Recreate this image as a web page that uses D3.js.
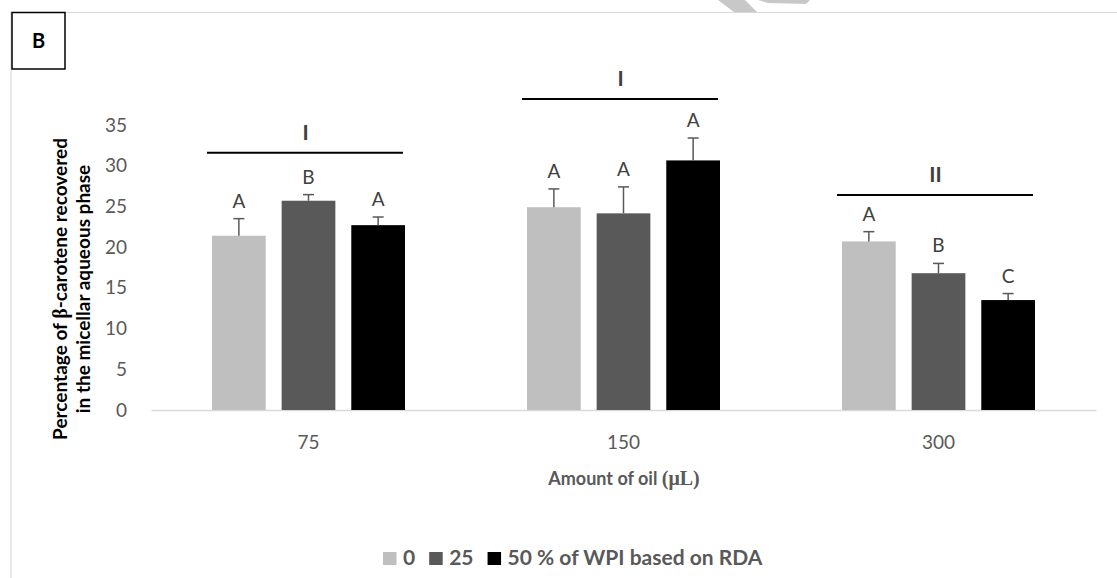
<!DOCTYPE html>
<html>
<head>
<meta charset="utf-8">
<script src="https://cdn.jsdelivr.net/npm/d3@7/dist/d3.min.js"></script>
<style>
  html, body { margin: 0; padding: 0; background: #fff; }
  svg { display: block; font-family: Lato, "Open Sans", sans-serif; }
</style>
</head>
<body>
<svg id="chart" width="1117" height="578"></svg>
<script>
// ---- data ----
const categories = ["75", "150", "300"];
const seriesNames = ["0", "25", "50 % of WPI based on RDA"];
const seriesColors = ["#bfbfbf", "#595959", "#000000"];
const values0 = [21.4, 24.9, 20.7];
const values25 = [25.7, 24.15, 16.8];
const values50 = [22.7, 30.65, 13.5];
const errors0 = [2.1, 2.25, 1.2];
const errors25 = [0.75, 3.25, 1.2];
const errors50 = [1.0, 2.75, 0.8];
const letters0 = ["A", "A", "A"];
const letters25 = ["B", "A", "B"];
const letters50 = ["A", "A", "C"];
const groupLabels = ["I", "I", "II"];
const groupLevels = [31.6, 38.2, 26.4];
const yTicks = [0, 5, 10, 15, 20, 25, 30, 35];

const seriesValues = [values0, values25, values50];
const seriesErrors = [errors0, errors25, errors50];
const seriesLetters = [letters0, letters25, letters50];

const svg = d3.select("#chart");

// frame
svg.append("line").attr("x1", 11).attr("x2", 1117).attr("y1", 12.5).attr("y2", 12.5)
  .attr("stroke", "#d9d9d9").attr("stroke-width", 1.2);
svg.append("line").attr("x1", 11).attr("x2", 11).attr("y1", 12).attr("y2", 578)
  .attr("stroke", "#d9d9d9").attr("stroke-width", 1.2);

// watermark fragment
svg.append("polygon").attr("points", "718,0 745,0 757,12 734,12").attr("fill", "#c8c8c8");
svg.append("polygon").attr("points", "758,0 810,0 806,4 768,3").attr("fill", "#c8c8c8");

// B box
svg.append("rect").attr("x", 12).attr("y", 12.5).attr("width", 53).attr("height", 56.5)
  .attr("fill", "#fff").attr("stroke", "#000").attr("stroke-width", 1.5);
svg.append("text").attr("x", 38.5).attr("y", 48).attr("text-anchor", "middle")
  .attr("font-weight", "bold").attr("font-size", 20).attr("fill", "#000").text("B");

// scales
const y = d3.scaleLinear().domain([0, 35]).range([410, 125]);
const x0 = d3.scaleBand().domain(categories).range([151, 1096])
  .paddingInner(122 / 315).paddingOuter(61 / 315);
const x1 = d3.scaleBand().domain(d3.range(seriesNames.length)).range([0, x0.bandwidth()])
  .paddingInner(0.2286).paddingOuter(0);

// y axis
const yAxis = svg.append("g").attr("transform", "translate(151,0)")
  .call(d3.axisLeft(y).tickValues(yTicks).tickSize(0).tickPadding(24));
yAxis.select(".domain").remove();
yAxis.selectAll("text").attr("font-size", 19).attr("fill", "#595959")
  .attr("font-family", "Lato, sans-serif");

// x axis
const xAxis = svg.append("g").attr("transform", "translate(0,410)")
  .call(d3.axisBottom(x0).tickSize(0).tickSizeOuter(0).tickPadding(26));
xAxis.select(".domain").attr("stroke", "#d9d9d9").attr("stroke-width", 1.5);
xAxis.selectAll("text").attr("font-size", 19).attr("fill", "#595959")
  .attr("font-family", "Lato, sans-serif");

// bars
const groups = svg.append("g").selectAll("g").data(categories).join("g")
  .attr("transform", d => `translate(${x0(d)},0)`);

seriesNames.forEach((s, si) => {
  groups.append("rect")
    .attr("x", x1(si))
    .attr("width", x1.bandwidth())
    .attr("y", (d, ci) => y(seriesValues[si][ci]))
    .attr("height", (d, ci) => y(0) - y(seriesValues[si][ci]))
    .attr("fill", seriesColors[si]);
  // error bars
  const cx = x1(si) + x1.bandwidth() / 2;
  groups.append("line")
    .attr("x1", cx).attr("x2", cx)
    .attr("y1", (d, ci) => y(seriesValues[si][ci]))
    .attr("y2", (d, ci) => y(seriesValues[si][ci] + seriesErrors[si][ci]))
    .attr("stroke", "#595959").attr("stroke-width", 1.5);
  groups.append("line")
    .attr("x1", cx - 5.5).attr("x2", cx + 5.5)
    .attr("y1", (d, ci) => y(seriesValues[si][ci] + seriesErrors[si][ci]))
    .attr("y2", (d, ci) => y(seriesValues[si][ci] + seriesErrors[si][ci]))
    .attr("stroke", "#595959").attr("stroke-width", 1.5);
  // letters
  groups.append("text")
    .attr("x", cx)
    .attr("y", (d, ci) => y(seriesValues[si][ci] + seriesErrors[si][ci]) - 11)
    .attr("text-anchor", "middle")
    .attr("font-size", 19).attr("fill", "#404040")
    .text((d, ci) => seriesLetters[si][ci]);
});

// significance lines
groups.append("line")
  .attr("x1", -5).attr("x2", x0.bandwidth() - 2)
  .attr("y1", (d, ci) => y(groupLevels[ci]))
  .attr("y2", (d, ci) => y(groupLevels[ci]))
  .attr("stroke", "#000").attr("stroke-width", 2);
groups.append("text")
  .attr("x", x0.bandwidth() / 2 - 3)
  .attr("y", (d, ci) => y(groupLevels[ci]) - 13)
  .attr("text-anchor", "middle")
  .attr("font-size", 21).attr("font-weight", "bold").attr("fill", "#404040")
  .text((d, ci) => groupLabels[ci]);

// y-axis title
const yTitle = svg.append("text")
  .attr("transform", "translate(67,289) rotate(-90)")
  .attr("text-anchor", "middle").attr("font-weight", "bold")
  .attr("font-size", 19).attr("fill", "#000");
const l1 = yTitle.append("tspan").attr("x", 0).attr("dy", 0);
l1.append("tspan").text("Percentage of ");
l1.append("tspan").attr("font-family", "Liberation Serif, serif").attr("font-size", 20).text("β");
l1.append("tspan").text("-carotene recovered");
yTitle.append("tspan").attr("x", 0).attr("dy", 23).text("in the micellar aqueous phase");

// x-axis title
const xTitle = svg.append("text").attr("x", 624).attr("y", 485)
  .attr("text-anchor", "middle").attr("font-weight", "bold")
  .attr("font-size", 18).attr("fill", "#595959");
xTitle.append("tspan").text("Amount of oil ");
xTitle.append("tspan").attr("font-family", "Liberation Serif, serif").attr("font-size", 20)
  .text("(μL)");

// legend
const legend = svg.append("g");
let lx = 383;
seriesNames.forEach((s, si) => {
  legend.append("rect").attr("x", lx).attr("y", 552).attr("width", 13.5).attr("height", 13)
    .attr("fill", seriesColors[si]);
  const t = legend.append("text").attr("x", lx + 20).attr("y", 565)
    .attr("font-weight", "bold").attr("font-size", 21).attr("fill", "#595959").text(s);
  lx += 20 + t.node().getComputedTextLength() + 14;
});
</script>
</body>
</html>
